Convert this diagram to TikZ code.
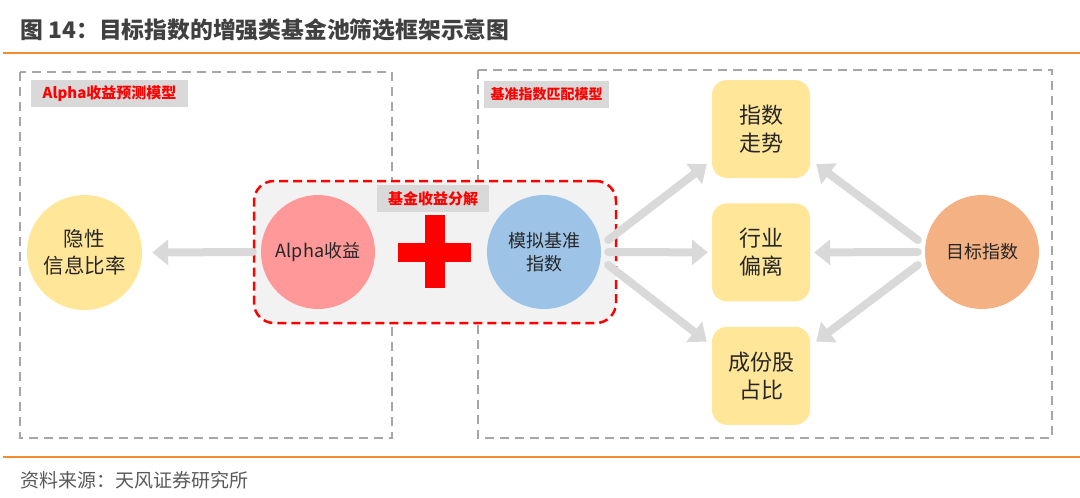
\documentclass[tikz,border=0pt]{standalone}
\usepackage{fontspec}
\setmainfont{Noto Sans CJK SC}
\usetikzlibrary{arrows.meta,positioning}
\definecolor{ink}{HTML}{262626}
\definecolor{titlegray}{HTML}{404040}
\definecolor{srcgray}{HTML}{595959}
\definecolor{rulecolor}{HTML}{F28C30}
\definecolor{framegray}{HTML}{A6A6A6}
\definecolor{taggray}{HTML}{D9D9D9}
\definecolor{tagred}{HTML}{FF0000}
\definecolor{boxgray}{HTML}{F2F2F2}
\definecolor{flowgray}{HTML}{D9D9D9}
\definecolor{cardyellow}{HTML}{FFE699}
\definecolor{pinkball}{HTML}{FF9999}
\definecolor{blueball}{HTML}{9DC3E6}
\definecolor{orangeball}{HTML}{F4B183}
\tikzset{
  every node/.style={text=ink},
  frame/.style={draw=framegray,line width=2pt,dash pattern=on 9pt off 6pt},
  rule/.style={draw=rulecolor,line width=2pt},
  tag/.style={fill=taggray,text=tagred,font=\bfseries\fontsize{15}{18}\selectfont,inner sep=0pt,minimum height=27pt},
  ball/.style={circle,minimum size=114pt,inner sep=0pt,align=center,font=\fontsize{18}{23}\selectfont},
  card/.style={fill=cardyellow,rounded corners=15pt,minimum width=98pt,minimum height=98pt,align=center,font=\fontsize{22}{28}\selectfont},
  splitbox/.style={draw=tagred,fill=boxgray,line width=2.5pt,dash pattern=on 9pt off 5pt,rounded corners=20pt,minimum width=362pt,minimum height=142pt},
  plusbar/.style={fill=tagred,inner sep=0pt},
  flow/.style={-{Triangle[width=25pt,length=16pt]},line width=8pt,draw=flowgray,line cap=round}
}
\begin{document}
\begin{tikzpicture}[x=1pt,y=-1pt,node distance=25pt and 25pt]
  \useasboundingbox (0,0) rectangle (1080,498);
  \node[anchor=west,text=titlegray,font=\bfseries\fontsize{22.8}{26}\selectfont] (title) at (17,30) {图 14：目标指数的增强类基金池筛选框架示意图};
  \draw[rule] (3,53) -- (1080,53);
  \draw[rule] (3,457) -- (1080,457);
  \node[anchor=west,text=srcgray,font=\fontsize{19}{22}\selectfont] (source) at (17,480) {资料来源：天风证券研究所};

  \draw[frame] (20,72) rectangle (392,438);
  \draw[frame] (478,70) rectangle (1052,438);
  \node[tag,minimum width=157pt] (tagalpha) at (109.5,93.5) {Alpha收益预测模型};
  \node[tag,minimum width=125pt,font=\bfseries\fontsize{14}{17}\selectfont] (tagbench) at (546.5,94) {基准指数匹配模型};

  \node[splitbox] (split) at (435,252) {};
  \node[tag,minimum width=112pt] (tagsplit) at (433,198.5) {基金收益分解};

  \node[ball,minimum size=115pt,fill=cardyellow,font=\fontsize{20.5}{27}\selectfont] (hidden) at (84.5,252.5) {隐性\\信息比率};
  \node[ball,fill=pinkball] (alpha) at (318,252) {Alpha收益};
  \node[plusbar,minimum width=73pt,minimum height=19pt] (plush) at (434.5,252.5) {};
  \node[plusbar,minimum width=20pt,minimum height=73pt] (plusv) at (435,251.5) {};
  \node[ball,fill=blueball] (sim) at (544,252) {模拟基准\\指数};
  \node[ball,fill=orangeball] (target) at (982,252) {目标指数};

  \node[card] (trend) at (761,129) {指数\\走势};
  \node[card,below=of trend] (sector) {行业\\偏离};
  \node[card,below=of sector] (stock) {成份股\\占比};

  \draw[flow] ([xshift=-8pt]alpha.west) -- ([xshift=10pt]hidden.east);
  \draw[flow] ([xshift=7pt,yshift=12pt]sim.east) -- ([xshift=-5pt,yshift=14pt]trend.south west);
  \draw[flow] ([xshift=7pt]sim.east) -- ([xshift=-4pt]sector.west);
  \draw[flow] ([xshift=7pt,yshift=-13pt]sim.east) -- ([xshift=-5pt,yshift=-15pt]stock.north west);
  \draw[flow] ([xshift=-7pt,yshift=12pt]target.west) -- ([xshift=6pt,yshift=14pt]trend.south east);
  \draw[flow] ([xshift=-7pt]target.west) -- ([xshift=4pt]sector.east);
  \draw[flow] ([xshift=-7pt,yshift=-13pt]target.west) -- ([xshift=6pt,yshift=-15pt]stock.north east);
\end{tikzpicture}
\end{document}
